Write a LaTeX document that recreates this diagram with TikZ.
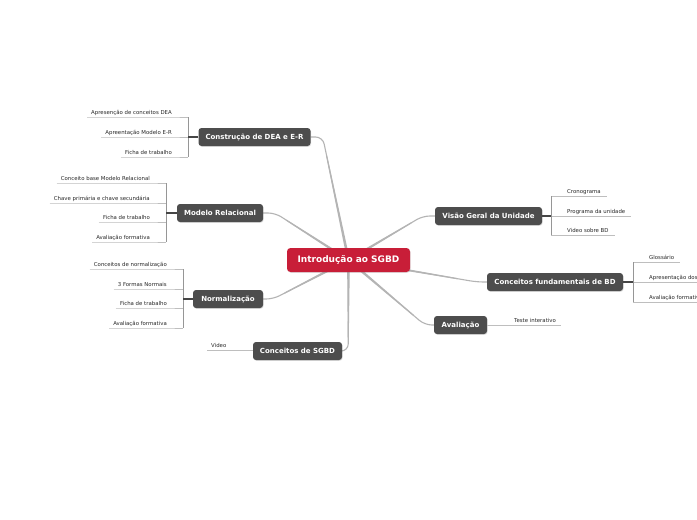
\documentclass[tikz,border=0pt]{standalone}
\usepackage{fontspec}
\setmainfont{DejaVu Sans}
\usetikzlibrary{calc,backgrounds,shadows}
\definecolor{boxc}{RGB}{77,77,77}
\definecolor{redc}{RGB}{200,30,56}
\definecolor{connc}{RGB}{180,180,180}
\definecolor{ulc}{RGB}{190,190,190}
\definecolor{brc}{RGB}{150,150,150}
\definecolor{darkc}{RGB}{70,70,70}
\definecolor{subtxt}{RGB}{40,40,40}
\newcommand\mylsub[4]{%
  \node[sub,anchor=base east] (#1) at (#2,#3-3) {#4};
  \draw[uline] ([xshift=-4pt,yshift=-3pt]#1.base west) -- ([yshift=-3pt]#1.base east) -- ++(16,0) coordinate (#1u);}
\newcommand\myrsub[4]{%
  \node[sub,anchor=base west] (#1) at (#2,#3-3) {#4};
  \draw[uline] ([xshift=-16pt,yshift=-3pt]#1.base west) coordinate (#1u) -- ([xshift=6pt,yshift=-3pt]#1.base east);}
\newcommand\mytaper[2]{%
  \coordinate (tq) at ($(#1)!0.85!(#2)$);
  \fill[connc] ($(#1)!1.4pt!90:(tq)$) -- ($(tq)!0.55pt!-90:(#1)$) -- ($(tq)!0.55pt!90:(#1)$) -- ($(#1)!1.4pt!-90:(tq)$) -- cycle;}
\begin{document}
\begin{tikzpicture}[x=1pt,y=-1pt,
  topic/.style={fill=boxc, text=white, font=\bfseries\fontsize{7}{8}\selectfont,
    rounded corners=3pt, minimum height=18pt, inner sep=0pt,
    drop shadow={opacity=0.25,shadow xshift=0.6pt,shadow yshift=-0.8pt}},
  central/.style={fill=redc, text=white, font=\bfseries\fontsize{9}{10}\selectfont,
    rounded corners=3.5pt, minimum height=24pt, minimum width=123pt, inner sep=0pt,
    drop shadow={opacity=0.25,shadow xshift=0.6pt,shadow yshift=-0.8pt}},
  sub/.style={font=\fontsize{5.4}{6}\selectfont, inner sep=0pt, text=subtxt},
  uline/.style={draw=ulc, line width=0.9pt},
  brline/.style={draw=brc, line width=0.8pt},
  darkl/.style={draw=darkc, line width=1.1pt},
  conn/.style={draw=connc, line width=1.1pt, rounded corners=7pt}]
\useasboundingbox (0,0) rectangle (697,520);
\clip (0,0) rectangle (697,520);

% main nodes
\node[central] (M) at (348.5,260) {Introdução ao SGBD};
\node[topic, minimum width=112pt] (C1) at (254.5,137) {Construção de DEA e E-R};
\node[topic, minimum width=86pt] (C2) at (220,213) {Modelo Relacional};
\node[topic, minimum width=70pt] (C3) at (228,299) {Normalização};
\node[topic, minimum width=89pt] (C4) at (297.5,351) {Conceitos de SGBD};
\node[topic, minimum width=107pt] (C5) at (488.5,216) {Visão Geral da Unidade};
\node[topic, minimum width=136pt] (C6) at (555,282) {Conceitos fundamentais de BD};
\node[topic, minimum width=53pt] (C7) at (460.5,325) {Avaliação};

% Construção de DEA e E-R
\mylsub{s11}{172}{117}{Apresenção de conceitos DEA}
\mylsub{s12}{172}{137}{Apreentação Modelo E-R}
\mylsub{s13}{172}{157}{Ficha de trabalho}
\draw[brline] (s11u) -- (s13u);
\draw[darkl] (C1.west) -- (C1.west -| s12u);

% Modelo Relacional
\mylsub{s21}{150}{183}{Conceito base Modelo Relacional}
\mylsub{s22}{150}{203}{Chave primária e chave secundária}
\mylsub{s23}{150}{222}{Ficha de trabalho}
\mylsub{s24}{150}{242}{Avaliação formativa}
\draw[brline] (s21u) -- (s24u);
\draw[darkl] (C2.west) -- (C2.west -| s21u);

% Normalização
\mylsub{s31}{167}{269}{Conceitos de normalização}
\mylsub{s32}{167}{289}{3 Formas Normais}
\mylsub{s33}{167}{308}{Ficha de trabalho}
\mylsub{s34}{167}{328}{Avaliação formativa}
\draw[brline] (s31u) -- (s34u);
\draw[darkl] (C3.west) -- (C3.west -| s31u);

% Conceitos de SGBD
\node[sub,anchor=base west] (s41) at (211,347) {Video};
\path (s41.base west) ++(-4,3) coordinate (s41u);
\draw[uline] (s41u) -- (s41u -| C4.west);

% Visão Geral da Unidade
\myrsub{s51}{567}{196}{Cronograma}
\myrsub{s52}{567}{216}{Programa da unidade}
\myrsub{s53}{567}{235}{Video sobre BD}
\draw[brline] (s51u) -- (s53u);
\draw[darkl] (C5.east) -- (C5.east -| s51u);

% Conceitos fundamentais de BD
\myrsub{s61}{649}{262}{Glossário}
\myrsub{s62}{649}{282}{Apresentação dos conceitos}
\myrsub{s63}{649}{302}{Avaliação formativa}
\draw[brline] (s61u) -- (s63u);
\draw[darkl] (C6.east) -- (C6.east -| s61u);

% Avaliação
\node[sub,anchor=base west] (s71) at (514,322) {Teste interativo};
\path (s71.base east) ++(5,3) coordinate (s71u);
\draw[uline] (C7.east) -- (C7.east -| s71u);

% connectors
\begin{scope}[on background layer]
  \fill[white] (0,0) rectangle (697,520);
  \coordinate (p1) at ([xshift=12pt]C1.east);
  \coordinate (p2) at ([xshift=12pt]C2.east);
  \coordinate (p3) at ([xshift=10pt]C3.east);
  \coordinate (p4) at ([xshift=6pt]C4.east);
  \coordinate (p5) at ([xshift=-12pt]C5.west);
  \coordinate (p6) at ([xshift=-10pt]C6.west);
  \coordinate (p7) at ([xshift=-9pt]C7.west);
  \draw[conn] (C1.east) -- (p1) -- (M.center);
  \draw[conn] (C2.east) -- (p2) -- (M.center);
  \draw[conn] (C3.east) -- (p3) -- (M.center);
  \draw[conn] (C4.east) -- (p4) -- (M.center);
  \draw[conn] (C5.west) -- (p5) -- (M.center);
  \draw[conn] (C6.west) -- (p6) -- (M.center);
  \draw[conn] (C7.west) -- (p7) -- (M.center);
  \mytaper{M.center}{p1}
  \mytaper{M.center}{p2}
  \mytaper{M.center}{p3}
  \mytaper{M.center}{p4}
  \mytaper{M.center}{p5}
  \mytaper{M.center}{p6}
  \mytaper{M.center}{p7}
\end{scope}
\end{tikzpicture}
\end{document}
